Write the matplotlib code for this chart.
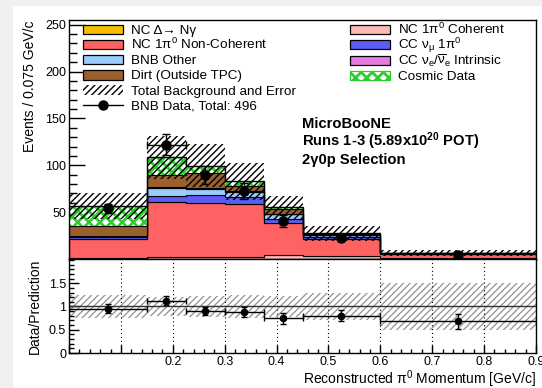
import numpy as np
import matplotlib
matplotlib.use("Agg")
import matplotlib.pyplot as plt
from matplotlib.patches import Rectangle
from matplotlib.lines import Line2D
from matplotlib.transforms import Affine2D
from matplotlib.ticker import MultipleLocator, FuncFormatter

plt.rcParams['font.family'] = ['Liberation Sans', 'DejaVu Sans']
plt.rcParams['mathtext.fontset'] = 'custom'
plt.rcParams['mathtext.rm'] = 'Liberation Sans'
plt.rcParams['mathtext.it'] = 'Liberation Sans:italic'
plt.rcParams['mathtext.bf'] = 'Liberation Sans:bold'
plt.rcParams['hatch.linewidth'] = 1.0

# Reconstructed pi0 momentum bin edges [GeV/c]
bin_edges = [0.0, 0.15, 0.225, 0.3, 0.375, 0.45, 0.6, 0.9]

# Predicted events per 0.075 GeV/c, stacked bottom to top
nc_delta      = [0.4, 0.3, 0.3, 0.3, 0.3, 0.3, 0.1]
nc_pi0_coh    = [0.2, 2.2, 2.2, 2.2, 4.0, 3.4, 1.5]
nc_pi0_noncoh = [20.4, 58.1, 57.3, 56.0, 34.4, 17.9, 3.8]
cc_numu_pi0   = [2.2, 6.7, 8.0, 7.2, 3.8, 1.6, 0.3]
bnb_other     = [1.4, 8.9, 7.2, 6.2, 5.0, 2.4, 0.3]
cc_nue        = [0.2, 0.4, 0.4, 0.4, 0.3, 0.2, 0.1]
dirt          = [10.8, 13.1, 16.6, 5.5, 5.3, 0.9, 0.2]
cosmic        = [21.0, 18.7, 7.7, 5.2, 2.1, 0.8, 0.3]

# Total background uncertainty per 0.075 GeV/c
bkg_error = [14.2, 23.0, 23.3, 19.9, 12.1, 7.8, 3.3]

# Selected BNB data events in each bin (raw counts)
data_counts = [108, 122, 90, 73, 41, 44, 18]

# Axis tick labels
main_yticks = [50, 100, 150, 200, 250]
ratio_yticks = [0, 0.5, 1, 1.5]

edges = np.array(bin_edges)
widths = np.diff(edges)
centers = 0.5 * (edges[:-1] + edges[1:])
per_0075 = 0.075 / widths

counts = np.array(data_counts, dtype=float)
data = counts * per_0075
data_err = np.sqrt(counts) * per_0075

YELLOW, PINK, RED = '#f7be00', '#ffb8b8', '#ff6262'
BLUE, LBLUE, MAGENTA = '#5c5cf2', '#99ccff', '#e27ee2'
BROWN, GREEN = '#9a5f2f', '#2fcc2f'

layers = [
    (nc_delta, YELLOW),
    (nc_pi0_coh, PINK),
    (nc_pi0_noncoh, RED),
    (cc_numu_pi0, BLUE),
    (bnb_other, LBLUE),
    (cc_nue, MAGENTA),
    (dirt, BROWN),
]

W, H = 542, 388
fig = plt.figure(figsize=(W / 100, H / 100), dpi=100)
px = Affine2D().scale(1 / W, -1 / H).translate(0, 1) + fig.transFigure


def fig_box(left, top, right, bottom):
    return [left / W, 1 - bottom / H, (right - left) / W, (bottom - top) / H]


# canvas border strips
for rect in [(0, 0, 13, H), (0, 0, W, 6)]:
    fig.add_artist(Rectangle(rect[:2], rect[2], rect[3], transform=px,
                             facecolor='#f0f0f0', edgecolor='none', zorder=-5))

ax = fig.add_axes(fig_box(69, 20, 536, 259))
ax2 = fig.add_axes(fig_box(69, 259, 536, 353))

# ---- stacked prediction ----
base = np.zeros(len(widths))
for vals, face in layers:
    top = base + np.array(vals)
    ax.stairs(top, edges, baseline=base, fill=True, facecolor=face,
              edgecolor='black', linewidth=0.8, zorder=2)
    base = top
top = base + np.array(cosmic)
cos_patch = ax.stairs(top, edges, baseline=base, fill=True, facecolor='white',
                      edgecolor=GREEN, hatch='xxx', linewidth=0, zorder=2)
if hasattr(cos_patch, 'set_hatch_linewidth'):
    cos_patch.set_hatch_linewidth(2.0)
total = top
ax.stairs(total, edges, baseline=None, fill=False, edgecolor='black',
          linewidth=1.0, zorder=3)

err = np.array(bkg_error)
ax.stairs(total + err, edges, baseline=total - err, fill=True,
          facecolor='none', edgecolor='black', hatch='/////', linewidth=0,
          zorder=4)

xerr_main = np.zeros_like(centers)
xerr_main[1] = widths[1] / 2
ax.errorbar(centers, data, yerr=data_err, xerr=xerr_main, fmt='o',
            color='black', ms=6.5, capsize=3, elinewidth=1, capthick=1,
            zorder=6)

ax.set_xlim(edges[0], edges[-1])
ax.set_ylim(0, 255)
ax.set_yticks(main_yticks)
ax.yaxis.set_minor_locator(MultipleLocator(10))
ax.tick_params(axis='y', which='major', direction='in', length=11.5,
               width=1, labelsize=9, pad=2)
ax.tick_params(axis='y', which='minor', direction='in', length=5.5, width=1)
ax.tick_params(axis='x', which='both', bottom=False, labelbottom=False)
for s in ax.spines.values():
    s.set_linewidth(1)
ax.set_ylabel('Events / 0.075 GeV/c', fontsize=10, loc='top')
ax.yaxis.set_label_coords(-0.068, 1.0)

# ---- ratio panel ----
ratio = data / total
ratio_err = data_err / total
band = err / total
ax2.stairs(1 + band, edges, baseline=1 - band, fill=True,
           facecolor='none', edgecolor='#9a9a9a', hatch='/////',
           linewidth=0, zorder=1)
ax2.axhline(1, color='#333333', lw=1, zorder=2)
ax2.errorbar(centers, ratio, yerr=ratio_err, xerr=widths / 2, fmt='o',
             color='black', ms=4.5, capsize=2.5, elinewidth=1, capthick=1,
             zorder=4)
ax2.set_xlim(edges[0], edges[-1])
ax2.set_ylim(0, 2.02)
ax2.set_yticks(ratio_yticks)
ax2.set_yticklabels(['0', '0.5', '1', '1.5'])
ax2.yaxis.set_minor_locator(MultipleLocator(0.1))
ax2.xaxis.set_major_locator(MultipleLocator(0.1))
ax2.xaxis.set_minor_locator(MultipleLocator(0.02))
ax2.xaxis.set_major_formatter(FuncFormatter(
    lambda v, pos: f'{v:g}' if v > 0.15 else ''))
ax2.tick_params(axis='y', which='major', direction='in', length=7.5,
                width=1, labelsize=9, pad=2)
ax2.tick_params(axis='y', which='minor', direction='in', length=3.4, width=1)
ax2.tick_params(axis='x', which='major', direction='in', length=6,
                width=1, labelsize=9, pad=2)
ax2.tick_params(axis='x', which='minor', direction='in', length=3, width=1)
ax2.grid(True, axis='x', which='major', color='black', lw=0.8,
         ls=(0, (1, 2.5)))
for s in ax2.spines.values():
    s.set_linewidth(1)
ax2.set_ylabel('Data/Prediction', fontsize=10)
ax2.yaxis.set_label_coords(-0.058, 0.5)
ax2.set_xlabel(r'Reconstructed π$^{0}$ Momentum [GeV/c]', fontsize=10,
               loc='right')
ax2.xaxis.set_label_coords(1.0, -0.165)


# ---- legend ----
def box_key(x, y, label, **kw):
    fig.add_artist(Rectangle((x, y - 4.7), 40, 9.4, transform=px, **kw))
    fig.text(x + 48, y + 4.7, label, transform=px, va='baseline',
             fontsize=9.7)


rows = [29.5 + 15.1 * i for i in range(6)]
lx, rx = 83, 350
box_key(lx, rows[0], 'NC Δ→ Nγ', facecolor=YELLOW, edgecolor='black', lw=0.9)
box_key(lx, rows[1], r'NC 1π$^{0}$ Non-Coherent', facecolor=RED,
        edgecolor='black', lw=0.9)
box_key(lx, rows[2], 'BNB Other', facecolor=LBLUE, edgecolor='black', lw=0.9)
box_key(lx, rows[3], 'Dirt (Outside TPC)', facecolor=BROWN,
        edgecolor='black', lw=0.9)
box_key(lx, rows[4], 'Total Background and Error', facecolor='none',
        edgecolor='black', hatch='/////', lw=0)
fig.add_artist(Line2D([lx, lx + 40], [rows[5], rows[5]], color='black',
                      lw=1, transform=px))
fig.add_artist(Line2D([lx + 20], [rows[5]], color='black', marker='o',
                      ms=6.5, transform=px))
fig.text(lx + 48, rows[5] + 4.7, f'BNB Data, Total: {int(counts.sum())}',
         transform=px, va='baseline', fontsize=9.7)

box_key(rx, rows[0], r'NC 1π$^{0}$ Coherent', facecolor=PINK,
        edgecolor='black', lw=0.9)
box_key(rx, rows[1], r'CC ν$_{\mathrm{μ}}$ 1π$^{0}$', facecolor=BLUE,
        edgecolor='black', lw=0.9)
box_key(rx, rows[2] + 0.5,
        r'CC ν$_{\mathrm{e}}$/$\overline{\mathrm{ν}}_{\mathrm{e}}$ Intrinsic',
        facecolor=MAGENTA, edgecolor='black', lw=0.9)
cos_key = Rectangle((rx, rows[3] + 0.5 - 4.7), 40, 9.4, transform=px,
                    facecolor='white', edgecolor=GREEN, hatch='xxx', lw=0.9)
if hasattr(cos_key, 'set_hatch_linewidth'):
    cos_key.set_hatch_linewidth(2.0)
fig.add_artist(cos_key)
fig.text(rx + 48, rows[3] + 0.5 + 4.7, 'Cosmic Data', transform=px,
         va='baseline', fontsize=9.7)

# ---- experiment labels ----
for yb, txt in [(128, 'MicroBooNE'),
                (146, r'Runs 1-3 (5.89x10$^{\mathbf{20}}$ POT)'),
                (164, '2γ0p Selection')]:
    fig.text(302, yb, txt, transform=px, va='baseline', fontsize=10.6,
             fontweight='bold')

fig.savefig('out.png', dpi=100)
